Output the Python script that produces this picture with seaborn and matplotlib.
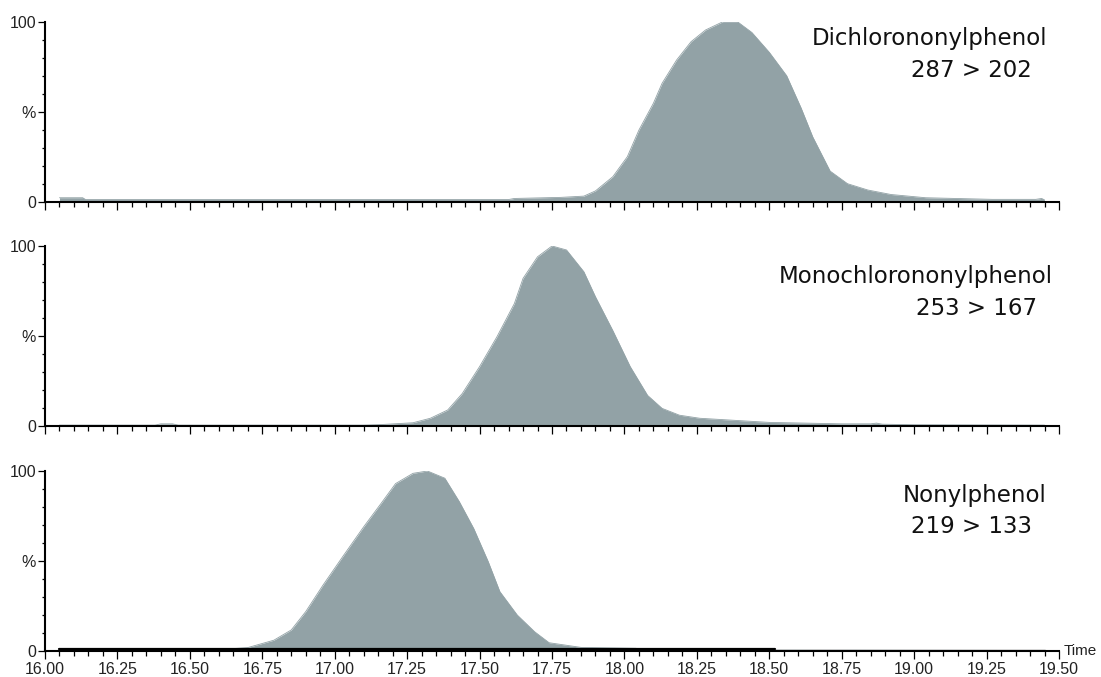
import matplotlib
matplotlib.use("Agg")
import matplotlib.pyplot as plt
from matplotlib.ticker import MultipleLocator, FixedLocator, FixedFormatter
from matplotlib import font_manager
import seaborn as sns
import pandas as pd

# ---------------- data ----------------
t_di = [16.05, 16.13, 16.14, 17.60, 17.62, 17.78, 17.86, 17.90, 17.96, 18.01, 18.05,
        18.10, 18.13, 18.18, 18.23, 18.28, 18.34, 18.39, 18.44, 18.50, 18.56, 18.61,
        18.65, 18.71, 18.77, 18.84, 18.92, 19.04, 19.27, 19.42, 19.44, 19.45]
i_di = [2.2, 2.2, 1.2, 1.2, 1.8, 2.4, 3.1, 6.0, 13.9, 25, 39.8,
        54.7, 65.8, 78.7, 88.9, 95.4, 100, 100, 94, 83, 70, 52,
        36, 17, 10, 6.5, 4, 2.2, 1.3, 1.3, 1.8, 1.0]

t_mono = [16.05, 16.38, 16.40, 16.44, 16.46, 17.10, 17.16, 17.27, 17.33, 17.39, 17.44,
          17.50, 17.56, 17.62, 17.65, 17.70, 17.75, 17.80, 17.86, 17.90, 17.96, 18.02,
          18.08, 18.13, 18.19, 18.26, 18.50, 18.75, 18.85, 18.87, 18.89, 19.00, 19.45]
i_mono = [0.5, 0.5, 1.2, 1.2, 0.5, 0.5, 0.8, 1.8, 4.3, 8.9, 18,
          33, 49.6, 68, 82, 94, 100, 97.8, 85.7, 71.8, 53, 33,
          17, 9.8, 6, 4.3, 2, 1.2, 1.2, 1.6, 1.0, 0.7, 0.5]

t_nonyl = [16.05, 16.50, 16.62, 16.70, 16.79, 16.85, 16.90, 16.96, 17.03, 17.10, 17.16,
           17.21, 17.27, 17.32, 17.38, 17.43, 17.48, 17.53, 17.57, 17.63, 17.69, 17.74,
           17.85, 18.04, 18.06, 19.45]
i_nonyl = [0.3, 0.3, 1.0, 1.9, 6, 11.7, 21.9, 36.7, 53, 69, 82,
           93, 98.7, 100, 96, 83, 68, 49.6, 33, 20, 10.7, 4.6,
           2.0, 1.5, 0.5, 0.3]

# dark baseline noise of the nonylphenol trace
nonyl_noise_t1 = [16.05, 18.52]
nonyl_noise_i1 = [1.0, 1.0]
nonyl_noise_t2 = [18.52, 19.45]
nonyl_noise_i2 = [0.6, 0.6]

names = ["Dichlorononylphenol", "Monochlorononylphenol", "Nonylphenol"]
transitions = ["287 > 202", "253 > 167", "219 > 133"]
x_tick_labels = ["16.00", "16.25", "16.50", "16.75", "17.00", "17.25", "17.50",
                 "17.75", "18.00", "18.25", "18.50", "18.75", "19.00", "19.25", "19.50"]
y_tick_values = [0, 50, 100]
y_tick_labels = ["0", "%", "100"]

# ---------------- style ----------------
sns.set_theme(style="ticks")
avail = {f.name for f in font_manager.fontManager.ttflist}
tick_font = "Liberation Sans Narrow" if "Liberation Sans Narrow" in avail else "Liberation Sans"
tick_size = 13 if tick_font == "Liberation Sans Narrow" else 11.5
plt.rcParams["font.family"] = ["DejaVu Sans"]

fill_col = "#92A2A6"

fig = plt.figure(figsize=(11.01, 6.77), dpi=100)
left, width, height = 45 / 1101, 1014 / 1101, 180 / 677
bottoms = [1 - 201.7 / 677, 1 - 426 / 677, 1 - 651 / 677]

traces = [(t_di, i_di), (t_mono, i_mono), (t_nonyl, i_nonyl)]
label_pos = [((19.458, 87.1), (19.406, 69.4)),
             ((19.480, 79.3), (19.423, 61.7)),
             ((19.458, 82.9), (19.406, 65.4))]
x_tick_values = [float(s) for s in x_tick_labels]

for k, (tt, ii) in enumerate(traces):
    ax = fig.add_axes([left, bottoms[k], width, height])
    df = pd.DataFrame({"t": tt, "i": ii})
    ax.fill_between(df["t"], 0, df["i"], color=fill_col, linewidth=0)
    sns.lineplot(data=df, x="t", y="i", ax=ax, color=fill_col, linewidth=0.6,
                 estimator=None, sort=False)
    if k == 2:
        sns.lineplot(x=nonyl_noise_t1, y=nonyl_noise_i1, ax=ax, color="black",
                     linewidth=1.6, estimator=None)
        sns.lineplot(x=nonyl_noise_t2, y=nonyl_noise_i2, ax=ax, color="black",
                     linewidth=0.9, estimator=None)

    ax.set_xlim(16.0, 19.5)
    ax.set_ylim(0, 100)
    ax.set_xlabel("")
    ax.set_ylabel("")
    for s in ["top", "right"]:
        ax.spines[s].set_visible(False)
    for s in ["left", "bottom"]:
        ax.spines[s].set_linewidth(1.5)
        ax.spines[s].set_color("black")

    ax.xaxis.set_major_locator(FixedLocator(x_tick_values))
    ax.xaxis.set_minor_locator(MultipleLocator(0.05))
    ax.yaxis.set_major_locator(FixedLocator(y_tick_values))
    ax.yaxis.set_major_formatter(FixedFormatter(y_tick_labels))
    ax.yaxis.set_minor_locator(MultipleLocator(10))

    ax.tick_params(axis="x", which="major", direction="out", length=6, width=0.9,
                   color="black", pad=2)
    ax.tick_params(axis="x", which="minor", direction="out", length=3.5, width=0.9,
                   color="black")
    ax.tick_params(axis="y", which="major", direction="out", length=5, width=0.9,
                   color="black", pad=1.5)
    ax.tick_params(axis="y", which="minor", direction="out", length=2.5, width=0.9,
                   color="black")
    for lab in ax.get_yticklabels():
        lab.set_fontfamily(tick_font)
        lab.set_fontsize(tick_size)
        lab.set_color("#222222")

    if k == 2:
        ax.xaxis.set_major_formatter(FixedFormatter(x_tick_labels))
        for lab in ax.get_xticklabels():
            lab.set_fontfamily(tick_font)
            lab.set_fontsize(tick_size)
            lab.set_color("#222222")
        ax.text(1.005, 0.0, "Time", transform=ax.transAxes, ha="left", va="center",
                fontfamily=tick_font, fontsize=tick_size - 0.5, color="#222222")
    else:
        ax.tick_params(axis="x", labelbottom=False)

    (x1, y1), (x2, y2) = label_pos[k]
    ax.text(x1, y1, names[k], ha="right", va="baseline", fontsize=16.5,
            color="#111111")
    ax.text(x2, y2, transitions[k], ha="right", va="baseline", fontsize=16.5,
            color="#111111")

fig.savefig("out.png", dpi=100)
